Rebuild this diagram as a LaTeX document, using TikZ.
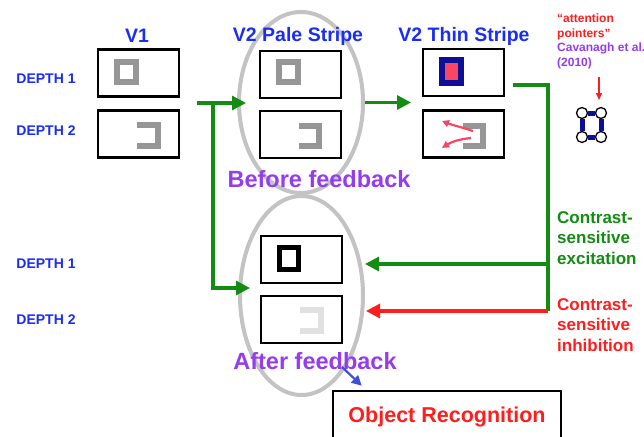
\documentclass[tikz,border=0pt]{standalone}
\usepackage{fontspec}
\setmainfont{Liberation Sans}
\usetikzlibrary{arrows.meta,shapes.geometric}

\definecolor{titleblue}{RGB}{25,45,245}
\definecolor{notepurple}{RGB}{150,60,240}
\definecolor{fgreen}{RGB}{20,140,20}
\definecolor{fred}{RGB}{255,30,30}
\definecolor{pinkred}{RGB}{250,70,100}
\definecolor{navy}{RGB}{15,15,150}
\definecolor{stimgray}{RGB}{150,150,150}
\definecolor{ringgray}{RGB}{195,195,195}
\definecolor{fadedgray}{RGB}{225,225,225}
\definecolor{pointblue}{RGB}{60,80,220}

\begin{document}
\begin{tikzpicture}[x=1pt,y=-1pt,
  font=\bfseries,
  panel/.style={draw=black, line width=2.6pt, minimum width=81pt,
    minimum height=47pt, inner sep=0pt},
  group/.style={ellipse, draw=ringgray, line width=4pt, inner sep=0pt},
  conn/.style={line width=3.1pt, line join=miter,
    -{Triangle[length=14pt,width=14pt]}},
  stim/.style={line width=6pt, line join=miter},
  title/.style={text=titleblue, font=\fontsize{19.5}{23}\selectfont\bfseries},
  depth/.style={text=titleblue, font=\fontsize{14}{16}\selectfont\bfseries},
  phase/.style={text=notepurple, font=\fontsize{23.5}{27}\selectfont\bfseries},
  side/.style={anchor=west, align=left, inner sep=0pt,
    font=\fontsize{17}{20.5}\selectfont\bfseries},
  vertex/.style={circle, draw=black, fill=white, line width=1.3pt,
    minimum size=11pt, inner sep=0pt}]

\clip (0,0) rectangle (644,436);
\fill[white] (0,0) rectangle (644,436);

% grouping ellipses
\node[group, minimum width=124pt, minimum height=181pt] (ebefore) at (301,102.5) {};
\node[group, minimum width=123pt, minimum height=199pt] (eafter) at (301.5,295.5) {};

% column titles
\node[title] (tv1) at (137,36) {V1};
\node[title] (tpale) at (298,36) {V2 Pale Stripe};
\node[title] (tthin) at (464,36) {V2 Thin Stripe};

% depth labels
\node[depth] (d1top) at (46,79) {DEPTH 1};
\node[depth] (d2top) at (46,131) {DEPTH 2};
\node[depth] (d1bot) at (46,264) {DEPTH 1};
\node[depth] (d2bot) at (46,320) {DEPTH 2};

% panels
\node[panel] (v1a) at (138.5,73) {};
\node[panel] (v1b) at (138.5,134) {};
\node[panel] (pa) at (300.5,74.5) {};
\node[panel] (pb) at (300.5,134.5) {};
\node[panel] (ta) at (463.5,72.5) {};
\node[panel] (tb) at (463.5,134) {};
\node[panel] (fa) at (301.5,259.5) {};
\node[panel] (fb) at (301.5,319.5) {};

% stimuli: V1
\draw[stim, stimgray] (117,62) rectangle (136,82);
\draw[stim, stimgray] (137,125) -- (158,125) -- (158,146) -- (137,146);
% stimuli: pale stripe
\draw[stim, stimgray] (279,62) rectangle (298,82);
\draw[stim, stimgray] (299,126) -- (319,126) -- (319,146) -- (299,146);
% stimuli: thin stripe
\fill[navy] (439,57) rectangle (464,86);
\fill[pinkred] (445,63) rectangle (458,80);
\draw[stim, stimgray] (463,126) -- (483,126) -- (483,146) -- (463,146);
\draw[pinkred, line width=2.2pt, -{Triangle[length=7pt,width=7pt]}]
  (473,131) .. controls (461,127) and (452,125) .. (442,121);
\draw[pinkred, line width=2.2pt, -{Triangle[length=7pt,width=7pt]}]
  (471,138) .. controls (460,139) and (451,142) .. (442,148);
% stimuli: after feedback
\draw[line width=5.5pt, black, line join=miter] (279.5,247.5) rectangle (298.5,269.5);
\draw[stim, fadedgray] (300,310) -- (321,310) -- (321,331) -- (300,331);

% phase labels
\node[phase] (lbefore) at (319,179) {Before feedback};
\node[phase] (lafter) at (315,361) {After feedback};

% feedforward connections
\coordinate (v1out) at (197,103);
\coordinate (split) at (213,103);
\coordinate (afterin) at (250,288);
\coordinate (thinin) at (411,102.5);
\draw[conn, fgreen] (v1out) -- ([xshift=9pt]v1out -| ebefore.west);
\draw[conn, fgreen] (split) |- (afterin);
\draw[conn, fgreen] (ebefore.east) -- (thinin);

% feedback connections
\coordinate (fbout) at (513,85);
\coordinate (exc) at (548,264);
\coordinate (inh) at (548,311);
\draw[line width=3.1pt, fgreen] (exc) -- (inh);
\draw[conn, fgreen] (fbout) -| (exc) -- (exc -| eafter.east);
\draw[conn, fred] (inh) -- ([xshift=1pt]inh -| eafter.east);

\node[side, text=fgreen] (lexc) at (557,238) {Contrast-\\sensitive\\excitation};
\node[side, text=fred] (linh) at (557,325) {Contrast-\\sensitive\\inhibition};

% attention pointers
\node[anchor=west, align=left, inner sep=0pt,
  font=\fontsize{12}{14.5}\selectfont\bfseries] (attn) at (557,41.5)
  {\textcolor{fred}{“attention}\\\textcolor{fred}{pointers”}\\
   \textcolor{notepurple}{Cavanagh et al.}\\\textcolor{notepurple}{(2010)}};
\coordinate (ptop) at (599,77);
\coordinate (pbot) at (599,100);
\draw[fred, line width=1.5pt, -{Triangle[length=7pt,width=6pt]}] (ptop) -- (pbot);
\node[vertex] (c1) at (582,113) {};
\node[vertex] (c2) at (601,113) {};
\node[vertex] (c3) at (582,137) {};
\node[vertex] (c4) at (601,137) {};
\draw[navy, line width=5pt] (c1) -- (c2);
\draw[navy, line width=5pt] (c2) -- (c4);
\draw[navy, line width=5pt] (c4) -- (c3);
\draw[navy, line width=5pt] (c3) -- (c1);

% object recognition
\node[draw=black, line width=2.6pt, minimum width=228pt, minimum height=52pt,
  inner sep=0pt, text=fred, font=\fontsize{21.5}{25}\selectfont\bfseries]
  (obj) at (447,417) {Object Recognition};
\coordinate (recog) at (342,367);
\draw[pointblue, line width=2.2pt, -{Triangle[length=10pt,width=10pt]}]
  (recog) -- ([xshift=30pt,yshift=4pt]obj.north west);
\end{tikzpicture}
\end{document}
